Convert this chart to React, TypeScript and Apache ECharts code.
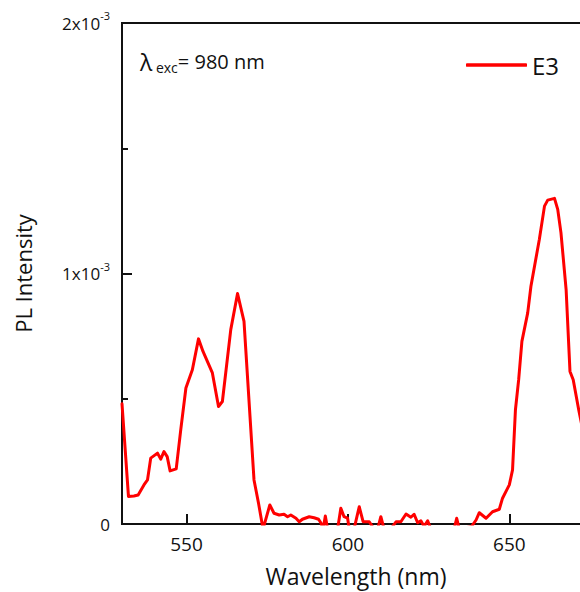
import React, { useEffect, useRef } from 'react';
import * as echarts from 'echarts';

// Emission spectrum, E3 sample (intensity in units of 1e-3)
const wavelengthNm = [
  530.0, 532.0, 533.7, 535.0, 536.8, 537.9, 538.9, 541.0, 542.0, 543.0,
  544.0, 544.9, 546.8, 548.2, 549.8, 551.8, 553.7, 555.1, 558.0, 559.9,
  561.1, 563.7, 565.8, 567.8, 570.9, 572.3, 573.7, 575.8, 577.1, 578.7,
  580.2, 581.3, 582.3, 583.9, 584.9, 585.9, 588.0, 589.5, 590.9, 591.6,
  592.3, 593.0, 593.7, 596.8, 597.8, 598.8, 599.9, 600.4, 601.9, 603.5,
  604.7, 606.6, 608.1, 609.2, 610.2, 611.2, 613.3, 614.9, 616.4, 618.0,
  619.5, 620.5, 621.6, 622.6, 623.6, 624.7, 625.7, 632.9, 633.7, 634.5,
  638.3, 639.7, 640.7, 642.8, 644.8, 646.9, 647.9, 650.0, 651.0, 651.9,
  652.9, 653.9, 655.7, 656.7, 659.3, 660.9, 661.9, 664.0, 665.0, 666.0,
  667.6, 668.8, 669.8, 671.5, 673.0,
];
const intensityMilli = [
  0.48, 0.11, 0.112, 0.116, 0.156, 0.176, 0.263, 0.283, 0.259, 0.289,
  0.269, 0.212, 0.22, 0.376, 0.543, 0.616, 0.739, 0.689, 0.603, 0.469,
  0.489, 0.776, 0.92, 0.809, 0.176, 0.083, -0.02, 0.076, 0.043, 0.036,
  0.039, 0.029, 0.036, 0.023, 0.009, 0.019, 0.029, 0.025, 0.019, 0.005,
  -0.02, 0.032, -0.02, -0.02, 0.063, 0.029, 0.023, -0.02, -0.02, 0.069,
  0.009, 0.009, -0.02, -0.02, 0.029, -0.02, -0.02, 0.009, 0.009, 0.04,
  0.027, 0.039, 0.005, 0.013, -0.01, 0.013, -0.02, -0.02, 0.023, -0.02,
  -0.01, 0.016, 0.045, 0.023, 0.049, 0.059, 0.103, 0.156, 0.216, 0.456,
  0.576, 0.729, 0.843, 0.949, 1.136, 1.269, 1.293, 1.3, 1.256, 1.163,
  0.936, 0.609, 0.576, 0.456, 0.36,
];
const seriesName = 'E3';
const xTickValues = [550, 600, 650];
const yTickValues = [0, 1, 2];
const xAxisTitle = 'Wavelength (nm)';
const yAxisTitle = 'PL Intensity';

const FONT = 'Open Sans';
const INK = '#111';
const RED = '#ff0000';

export default function App() {
  const ref = useRef<HTMLDivElement>(null);

  useEffect(() => {
    if (!ref.current) return;
    const chart = echarts.init(ref.current, null, { renderer: 'svg' });
    const data = wavelengthNm.map((w, i) => [w, intensityMilli[i]]);
    chart.setOption({
      animation: false,
      grid: {
        left: 122,
        right: 30,
        top: 23,
        bottom: 68,
        show: true,
        borderColor: INK,
        borderWidth: 2,
        backgroundColor: 'transparent',
      },
      legend: {
        left: 461,
        top: 48,
        itemWidth: 61,
        itemHeight: 3.5,
        icon: 'roundRect',
        itemGap: 4,
        data: [seriesName],
        itemStyle: { color: RED, borderWidth: 0 },
        textStyle: { fontSize: 24, lineHeight: 24, color: INK, fontFamily: FONT },
      },
      xAxis: {
        type: 'value',
        min: 530,
        max: 675,
        name: xAxisTitle,
        nameLocation: 'middle',
        nameGap: 40,
        nameTextStyle: { fontSize: 23, color: INK, fontFamily: FONT },
        axisLine: { lineStyle: { color: INK, width: 2 } },
        axisTick: {
          inside: true,
          length: 10,
          customValues: xTickValues,
          lineStyle: { color: INK, width: 2 },
        },
        axisLabel: {
          customValues: xTickValues,
          fontSize: 19,
          margin: 10,
          color: INK,
          fontFamily: FONT,
        },
        splitLine: { show: false },
      },
      yAxis: {
        type: 'value',
        min: 0,
        max: 2,
        interval: 1,
        name: yAxisTitle,
        nameLocation: 'middle',
        nameRotate: 90,
        nameGap: 88,
        nameTextStyle: { fontSize: 22, color: INK, fontFamily: FONT },
        axisLine: { show: true, lineStyle: { color: INK, width: 2 } },
        axisTick: {
          show: true,
          inside: true,
          length: 10,
          customValues: yTickValues,
          lineStyle: { color: INK, width: 2 },
        },
        minorTick: {
          show: true,
          splitNumber: 2,
          length: 6,
          lineStyle: { color: INK, width: 2 },
        },
        axisLabel: {
          customValues: yTickValues,
          margin: 12,
          color: INK,
          fontSize: 17,
          fontFamily: FONT,
          formatter: (v: number) => (v === 0 ? '0' : `{b|${v}x10}{s|-3}`),
          rich: {
            b: { fontSize: 17, lineHeight: 26, color: INK, fontFamily: FONT },
            s: { fontSize: 11, lineHeight: 11, verticalAlign: 'top', color: INK, fontFamily: FONT },
          },
        },
        splitLine: { show: false },
        minorSplitLine: { show: false },
      },
      series: [
        {
          type: 'line',
          name: seriesName,
          data,
          symbol: 'none',
          showSymbol: false,
          clip: true,
          lineStyle: { color: RED, width: 3, join: 'round', cap: 'round' },
          itemStyle: { color: RED },
        },
      ],
      graphic: [
        {
          type: 'text',
          left: 140,
          top: 50,
          style: {
            text: '{l|λ}{s| exc}{m|= 980 nm}',
            rich: {
              l: { fontSize: 23, lineHeight: 26, fill: INK, fontFamily: FONT },
              s: { fontSize: 14, lineHeight: 12, verticalAlign: 'bottom', fill: INK, fontFamily: FONT },
              m: { fontSize: 20, lineHeight: 26, fill: INK, fontFamily: FONT },
            },
          },
        },
      ],
    });
    return () => chart.dispose();
  }, []);

  return (
    <div style={{ position: 'absolute', left: 0, top: 0, width: 580, height: 592, overflow: 'hidden', background: '#fff' }}>
      <div ref={ref} style={{ width: 620, height: 592 }} />
    </div>
  );
}
